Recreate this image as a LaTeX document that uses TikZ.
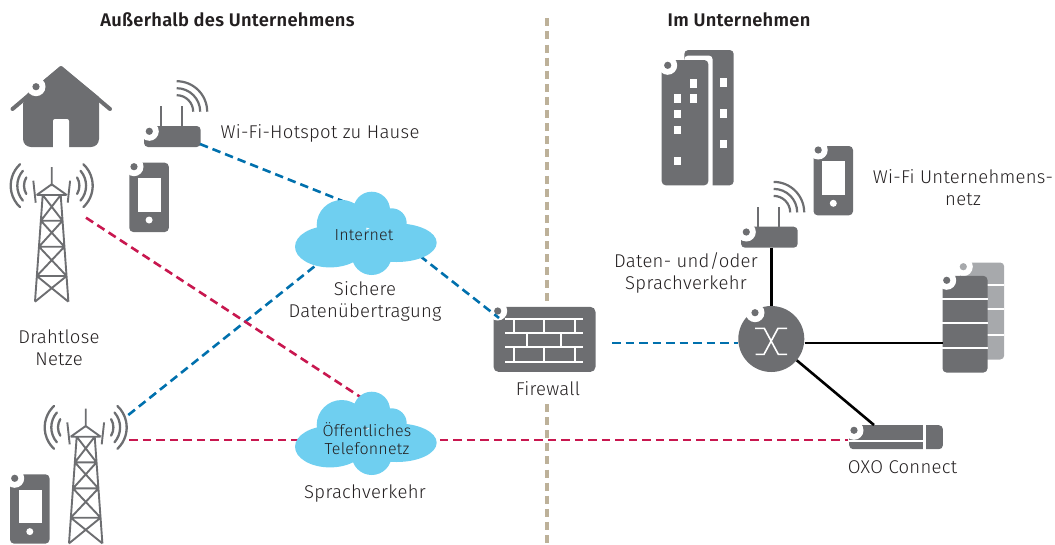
\documentclass[tikz,border=0pt]{standalone}
\usepackage{fontspec}
\setmainfont{Fira Sans Light}[BoldFont={Fira Sans SemiBold},LetterSpace=1.5]
\usetikzlibrary{positioning}
\definecolor{icongray}{HTML}{6D6E71}
\definecolor{iconlight}{HTML}{A7A9AC}
\definecolor{cloudblue}{HTML}{6FCFF0}
\definecolor{datablue}{HTML}{0070AD}
\definecolor{voicered}{HTML}{C8174F}
\definecolor{bordertan}{HTML}{BDB199}
\definecolor{labelink}{HTML}{231F20}
\tikzset{
    label text/.style={text=labelink,font=\fontsize{18.5}{22}\selectfont,align=center,inner sep=0pt},
    head text/.style={text=labelink,font=\fontsize{18.3}{20}\selectfont\bfseries,inner sep=0pt},
    cloud text/.style={text=labelink,font=\fontsize{16}{18}\selectfont,align=center,inner sep=0pt},
    iconbox/.style={fill=icongray,rounded corners=4pt,inner sep=0pt,anchor=north west},
    data link/.style={datablue,line width=2.6pt,dash pattern=on 8.5pt off 5pt},
    voice link/.style={voicered,line width=2.6pt,dash pattern=on 8.5pt off 5pt},
    border link/.style={bordertan,line width=4.3pt,dash pattern=on 8pt off 5.1pt},
    wire/.style={black,line width=2.6pt},
    ring/.pic={
        \fill[white] (0,0) circle (9.5pt);
        \fill[pic actions] (0,0) circle (3.6pt);
    },
    phone/.pic={
        \fill[icongray,rounded corners=4pt] (0,0) rectangle (39.5,69.3);
        \fill[white] (8.7,15.3) rectangle (31.7,49);
        \fill[white] (19.8,57.3) circle (3.5pt);
        \path[fill=icongray] (4.7,4) pic {ring};
    },
    router/.pic={
        \fill[icongray,rounded corners=4pt] (0,0) rectangle (56.7,21);
        \draw[icongray,line width=2pt] (17,0) -- (17,-20) (37.7,0) -- (37.7,-20);
        \foreach \r in {16.5,23.5,30.5}
            \draw[icongray,line width=2.2pt] (32.7,-14.3) ++(90:\r pt) arc[start angle=90,end angle=0,radius=\r pt];
        \path[fill=icongray] (5.3,5.3) pic {ring};
        \coordinate (-side) at (56,18);
        \coordinate (-foot) at (30.7,21);
    },
    tower/.pic={
        \draw[icongray,line width=1.9pt] (-9,28) -- (-16.7,134.7) (9,28) -- (16.7,134.7)
            (-15,28) -- (15,28) (-15,28) -- (0,17.3) -- (15,28) (0,0) -- (0,19)
            (-18.4,13.7) -- (-16,35.7) (18.4,13.7) -- (16,35.7)
            (-10.8,53.7) -- (10.8,53.7) (-12.7,79.7) -- (12.7,79.7) (-14.9,109) -- (14.9,109)
            (-9,28) -- (10.8,53.7) (9,28) -- (-10.8,53.7)
            (-10.8,53.7) -- (12.7,79.7) (10.8,53.7) -- (-12.7,79.7)
            (-12.7,79.7) -- (14.9,109) (12.7,79.7) -- (-14.9,109)
            (-14.9,109) -- (16.7,134.7) (14.9,109) -- (-16.7,134.7);
        \foreach \r/\a in {16/31,22.7/41,29.3/47} {
            \draw[icongray,line width=2.3pt,line cap=round] (11.7,18.7) ++(-\a:\r pt) arc[start angle=-\a,end angle=\a,radius=\r pt];
            \draw[icongray,line width=2.3pt,line cap=round] (-11.7,18.7) ++(180-\a:\r pt) arc[start angle=180-\a,end angle=180+\a,radius=\r pt];
        }
    },
    cloudshape/.pic={
        \fill[cloudblue] (-35.7,11.7) ellipse [x radius=35pt,y radius=20.7pt]
            (31,7.7) ellipse [x radius=40pt,y radius=19.3pt]
            (6,-25) circle (18.3pt) (-24,-10) circle (25pt) (26,-11.7) circle (15pt) (6,20) circle (20pt)
            (-30,-5) rectangle (30,20);
    }
}
\begin{document}
\begin{tikzpicture}[x=1pt,y=-1pt]
    \useasboundingbox (0,0) rectangle (1055,544);

    % border between the two sides, broken at the firewall
    \coordinate (bordertop) at (546.8,18.3);
    \coordinate (bordermid) at (546.8,302);
    \coordinate (borderlow) at (546.8,404);
    \coordinate (borderfoot) at (546.8,544);
    \draw[border link] (bordertop) -- (bordermid);
    \draw[border link] (borderlow) -- (borderfoot);

    % outside
    \fill[icongray,line join=round] (61,66) -- (99,97) -- (99,137) [rounded corners=8pt] -- (99,147) -- (23,147) -- (23,97) [sharp corners] -- cycle;
    \draw[icongray,line width=4pt,line cap=round,line join=round] (12.5,109) -- (61,68) -- (110,109);
    \fill[white,rounded corners=2pt] (53,119) rectangle (69,152);
    \path[fill=icongray] (36,86.7) pic {ring};
    \pic (hotspot) at (144,126) {router};
    \pic at (129.3,162.7) {phone};
    \pic at (51.7,167) {tower};
    \pic at (85.7,408.7) {tower};
    \pic at (10,474.3) {phone};

    % inside
    \fill[icongray,rounded corners=4pt] (684.3,50) rectangle (733.7,185.3);
    \fill[white,rounded corners=4pt] (684.3,55.5) rectangle (712.7,190);
    \fill[icongray,rounded corners=4pt] (661.7,60) rectangle (708.3,185.3);
    \foreach \x/\y in {693.3/83.3,693.3/98.3,677.7/98.3,677.7/114,677.7/130,677.7/161,723.3/82.3,723.3/113.3,723.3/144}
        \fill[white] (\x-3.5,\y-4.3) rectangle (\x+3.5,\y+4.3);
    \path[fill=icongray] (667.7,65.3) pic {ring};
    \pic at (813.5,146) {phone};
    \pic (office) at (741,226.7) {router};

    \node[iconbox,minimum width=102pt,minimum height=65pt,rounded corners=5pt] (firewall) at (493.3,306.7) {};
    \foreach \y in {319.3,333.3,347,361.7}
        \draw[white,line width=2pt] (505,\y) -- (582.7,\y);
    \foreach \x in {514.3,544.3,575}
        \draw[white,line width=2pt] (\x,319.3) -- (\x,333.3) (\x,347) -- (\x,361.7);
    \foreach \x in {527.3,560.7}
        \draw[white,line width=2pt] (\x,333.3) -- (\x,347);
    \path[fill=icongray] (497.7,311) pic {ring};

    \node[circle,fill=icongray,minimum size=66pt,inner sep=0pt] (switch) at (771.3,339) {};
    \draw[white,line width=1.6pt] (755,328.3) -- (764.3,328.3) -- (778.3,354.3) -- (787,354.3)
        (787,328.3) -- (778,328.3) -- (764,354.3) -- (755.5,354.3);
    \path[fill=icongray] (755,312.7) pic {ring};

    \node[iconbox,fill=iconlight,minimum width=44pt,minimum height=97pt] (serverback) at (960,262.3) {};
    \foreach \y in {285,309.3,335}
        \draw[white,line width=2.3pt] (985,\y) -- (serverback.east |- 0,\y);
    \path[fill=iconlight] (963.3,266.7) pic {ring};
    \node[iconbox,minimum width=45pt,minimum height=96.6pt] (server) at (942.3,275.7) {};
    \foreach \y in {298.7,323.3,347.7}
        \draw[white,line width=2.3pt] (server.west |- 0,\y) -- (server.east |- 0,\y);
    \path[fill=icongray] (946.7,280.3) pic {ring};

    \node[iconbox,minimum width=93.7pt,minimum height=24pt] (oxo) at (849,425) {};
    \draw[white,line width=2pt] (oxo.west |- 0,441) -- (924.3,441);
    \draw[white,line width=3pt] (924.3,424) -- (924.3,450);
    \path[fill=icongray] (854,430.3) pic {ring};

    % free ends of the links
    \coordinate (mastdata) at (128.3,415);
    \coordinate (mastvoice) at (129.3,440);
    \coordinate (towervoice) at (86,217.7);
    \coordinate (netnorth) at (345,202);
    \coordinate (netsouth) at (320,262);
    \coordinate (neteast) at (420,256);
    \coordinate (wallnw) at (499,318);
    \coordinate (wallout) at (612,343);
    \coordinate (phonenet) at (365,400);
    \coordinate (serverport) at (942.7,343);
    \coordinate (oxoport) at (874,425);
    \coordinate (oxovoice) at (848,440);

    \draw[data link] (hotspot-side) -- (netnorth);
    \draw[data link] (mastdata) -- (netsouth);
    \draw[data link] (neteast) -- (wallnw);
    \draw[data link] (wallout) -- (wallout -| switch.west);
    \draw[voice link] (towervoice) -- (phonenet);
    \draw[voice link] (mastvoice) -- (oxovoice);
    \draw[wire] (office-foot) -- (switch.north -| office-foot);
    \draw[wire] (serverport -| switch.east) -- (serverport);
    \draw[wire] (switch) -- (oxoport);

    % clouds on top of the links
    \pic at (365.7,235) {cloudshape};
    \pic at (365.7,435) {cloudshape};
    \node[cloud text] (internet) at (364,235) {Internet};
    \node[cloud text] (pstn) at (367,439) {Öffentliches\\Telefonnetz};

    % labels
    \node[head text] (outsidehead) at (227.5,20) {Außerhalb des Unternehmens};
    \node[head text] (insidehead) at (739,20) {Im Unternehmen};
    \node[label text] (hotspotlabel) at (320,133) {Wi-Fi-Hotspot zu Hause};
    \node[label text] (wirelesslabel) at (59,348) {Drahtlose\\Netze};
    \node[label text] (securelabel) at (365,301.5) {Sichere\\Datenübertragung};
    \node[label text] (voicelabel) at (365,493.5) {Sprachverkehr};
    \node[label text] (firewalllabel) at (548,388.5) {Firewall};
    \node[label text] (trafficlabel) at (686,273) {Daten- und/oder\\Sprachverkehr};
    \node[label text] (wifilabel) at (963,187.5) {Wi-Fi Unternehmens-\\netz};
    \node[label text] (oxolabel) at (902.5,467.5) {OXO Connect};
\end{tikzpicture}
\end{document}
